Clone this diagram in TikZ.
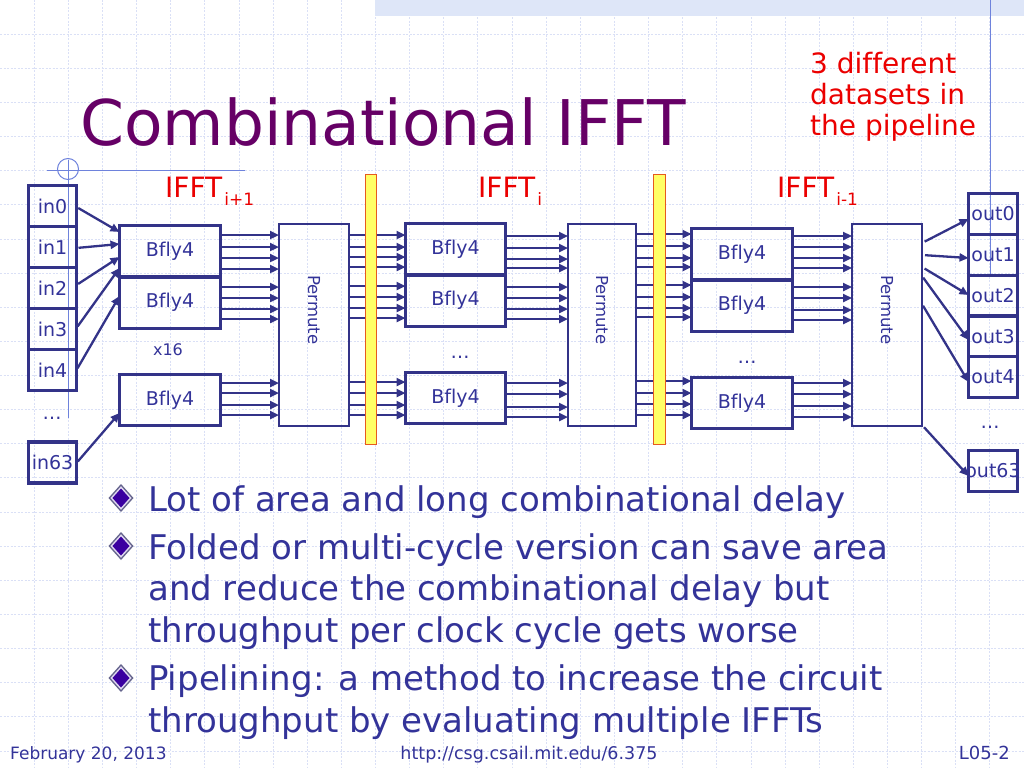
\documentclass[tikz,border=0pt]{standalone}
\usepackage{fontspec}
\setmainfont[Ligatures=NoCommon]{DejaVu Sans}
\usetikzlibrary{arrows.meta}
\definecolor{dblue}{RGB}{51,51,136}
\definecolor{tblue}{RGB}{51,51,153}
\definecolor{ttl}{RGB}{102,0,102}
\definecolor{gridc}{RGB}{218,224,246}
\definecolor{decoc}{RGB}{110,130,220}
\definecolor{bandc}{RGB}{222,230,248}
\definecolor{rred}{RGB}{235,0,0}
\definecolor{ybar}{RGB}{255,255,102}
\definecolor{ybord}{RGB}{230,90,30}
\definecolor{bulc}{RGB}{58,0,160}
\definecolor{bulo}{RGB}{100,100,140}
\newcommand\myfs[1]{\fontsize{#1}{#1}\selectfont}
\begin{document}
\begin{tikzpicture}[x=1pt,y=-1pt,
 gridline/.style={draw=gridc, line width=0.8pt, dash pattern=on 2pt off 1.5pt},
 deco/.style={draw=decoc, line width=1pt},
 box/.style={draw=dblue, line width=3.3pt, inner sep=0pt, outer sep=0pt, text=tblue, font=\myfs{19}},
 inbox/.style={box, minimum width=48pt, minimum height=41pt},
 outbox/.style={box, minimum width=49pt, minimum height=40.8pt},
 bfly/.style={box, minimum width=101pt, minimum height=51.5pt},
 perm/.style={draw=dblue, line width=2pt, inner sep=0pt, outer sep=0pt, minimum width=70pt, minimum height=202pt},
 permtext/.style={text=tblue, font=\myfs{16.5}, rotate=-90, inner sep=0pt},
 regbar/.style={draw=ybord, fill=ybar, line width=1pt, inner sep=0pt, minimum width=11pt, minimum height=270pt},
 arr/.style={draw=dblue, line width=2.3pt, -{Triangle[length=9pt,width=8pt]}},
 lab/.style={text=rred, font=\myfs{28}, anchor=base west, inner sep=0pt},
 body/.style={text=tblue, font=\myfs{34}, anchor=base west, inner sep=0pt},
 foot/.style={text=tblue, inner sep=0pt},
 dotsn/.style={text=tblue, font=\myfs{19}, inner sep=0pt},
]
\useasboundingbox (0,0) rectangle (1024,768);
\fill[white] (0,0) rectangle (1024,768);
% grid
\foreach \i in {1,...,29} \draw[gridline] (34.133*\i,0) -- (34.133*\i,768);
\foreach \j in {1,...,22} \draw[gridline] (0,34.133*\j) -- (1024,34.133*\j);
% top band and decorative lines
\fill[bandc] (375,0) rectangle (1024,16);
\draw[deco] (990,0) -- (990,275);
\draw[deco] (47,170) -- (245,170);
\draw[deco] (68,160) -- (68,418);
\draw[deco] (68,169) circle (10.5);

% title
\node[anchor=base west, text=ttl, font=\myfs{63}, inner sep=0pt] (title) at (80,145) {Combinational IFFT};
\node[lab] (note1) at (810,74) {3 different};
\node[lab] (note2) at (810,104) {datasets in};
\node[lab] (note3) at (810,135) {the pipeline};

% stage labels
\node[lab] (lab1) at (165,197) {IFFT\kern2pt\raisebox{-8pt}{\myfs{17}i+1}};
\node[lab] (lab2) at (478,197) {IFFT\kern2pt\raisebox{-8pt}{\myfs{17}i}};
\node[lab] (lab3) at (777,197) {IFFT\kern2pt\raisebox{-8pt}{\myfs{17}i-1}};

% inputs
\node[inbox] (in0) at (52.5,206) {in0};
\node[inbox] (in1) at (52.5,247) {in1};
\node[inbox] (in2) at (52.5,288) {in2};
\node[inbox] (in3) at (52.5,329) {in3};
\node[inbox] (in4) at (52.5,370) {in4};
\node[dotsn] (indots) at (52,418) {…};
\node[inbox] (in63) at (52.5,462.5) {in63};

% stage 1
\node[bfly] (s1a) at (170,251.25) {Bfly4};
\node[bfly] (s1b) at (170,302.75) {Bfly4};
\node[bfly] (s1c) at (170,400) {Bfly4};
\node[text=tblue, font=\myfs{16}, inner sep=0pt] (x16) at (168,350) {x16};
\node[perm] (p1) at (314,325) {};
\node[permtext] (p1t) at (314,310) {Permute};

% stage 2
\node[bfly, minimum width=100pt] (s2a) at (455.5,249.25) {Bfly4};
\node[bfly, minimum width=100pt] (s2b) at (455.5,300.75) {Bfly4};
\node[bfly, minimum width=100pt] (s2c) at (455.5,398) {Bfly4};
\node[dotsn] (s2dots) at (460,357) {…};
\node[perm, minimum width=68pt] (p2) at (602,325) {};
\node[permtext] (p2t) at (602,310) {Permute};

% stage 3
\node[bfly] (s3a) at (742,254.25) {Bfly4};
\node[bfly] (s3b) at (742,305.75) {Bfly4};
\node[bfly] (s3c) at (742,403) {Bfly4};
\node[dotsn] (s3dots) at (747,362) {…};
\node[perm] (p3) at (887,325) {};
\node[permtext] (p3t) at (887,310) {Permute};

% outputs
\node[outbox] (out0) at (993,214) {\makebox[0pt]{out0}};
\node[outbox] (out1) at (993,254.8) {\makebox[0pt]{out1}};
\node[outbox] (out2) at (993,295.6) {\makebox[0pt]{out2}};
\node[outbox] (out3) at (993,336.4) {\makebox[0pt]{out3}};
\node[outbox] (out4) at (993,377.2) {\makebox[0pt]{out4}};
\node[dotsn] (outdots) at (990,427) {…};
\node[outbox] (out63) at (993,471) {\makebox[0pt]{out63}};

% input arrows
\draw[arr, shorten <=2pt] (in0.east |- 0,207) -- (s1a.west |- 0,232);
\draw[arr, shorten <=2pt] (in1.east |- 0,248) -- (s1a.west |- 0,244);
\draw[arr, shorten <=2pt] (in2.east |- 0,285) -- (s1a.west |- 0,257);
\draw[arr, shorten <=2pt] (in3.east |- 0,328) -- (s1a.west |- 0,268);
\draw[arr, shorten <=2pt] (in4.east |- 0,370) -- (s1b.west |- 0,296);
\draw[arr, shorten <=2pt] (in63.east |- 0,463) -- (s1c.west |- 0,413);

% parallel arrows
\foreach \src/\dst/\ys in {
  s1a/p1/{235,247,258,269}, s1b/p1/{287,298,309,319}, s1c/p1/{383,393,405,415},
  s2a/p2/{236,248,259,268}, s2b/p2/{287,298,309,319}, s2c/p2/{383,394,407,417},
  s3a/p3/{236,247,258,268}, s3b/p3/{287,298,310,320}, s3c/p3/{383,394,406,417}}
  \foreach \y in \ys \draw[arr] (\src.east |- 0,\y) -- (\dst.west |- 0,\y);
\foreach \src/\dst/\ys in {
  p1/s2a/{235,247,257,267}, p1/s2b/{286,297,308,318}, p1/s2c/{382,393,405,415},
  p2/s3a/{234,246,258,267}, p2/s3b/{285,297,308,317}, p2/s3c/{381,393,404,415}}
  \foreach \y in \ys \draw[arr] (\src.east |- 0,\y) -- (\dst.west |- 0,\y);

% output arrows
\draw[arr, shorten <=3pt] (p3.east |- 0,243) -- (out0.west |- 0,219);
\draw[arr, shorten <=3pt] (p3.east |- 0,255) -- (out1.west |- 0,258);
\draw[arr, shorten <=3pt] (p3.east |- 0,267) -- (out2.west |- 0,295);
\draw[arr, shorten <=2pt] (p3.east |- 0,276) -- (out3.west |- 0,340);
\draw[arr, shorten <=2pt] (p3.east |- 0,304) -- (out4.west |- 0,382);
\draw[arr, shorten <=3pt] (p3.east |- 0,425) -- (out63.west |- 0,476);

% pipeline registers
\node[regbar] (bar1) at (371,309.5) {};
\node[regbar, minimum width=12pt] (bar2) at (659.5,309.5) {};

% bullets
\foreach \yy in {498,546,678} {
  \fill[bulo] (108.5,\yy) -- (121,\yy-14) -- (133.5,\yy) -- (121,\yy+14) -- cycle;
  \fill[white!85!bulc] (110.5,\yy) -- (121,\yy-11.8) -- (131.5,\yy) -- (121,\yy+11.8) -- cycle;
  \fill[bulc] (112.5,\yy) -- (121,\yy-9.5) -- (129.5,\yy) -- (121,\yy+9.5) -- cycle;
}
\node[body] (b1) at (148,511) {Lot of area and long combinational delay};
\node[body] (b2a) at (148,559) {Folded or multi-cycle version can save area};
\node[body] (b2b) at (148,600) {and reduce the combinational delay but};
\node[body] (b2c) at (148,642) {throughput per clock cycle gets worse};
\node[body] (b3a) at (148,690) {Pipelining: a method to increase the circuit};
\node[body] (b3b) at (148,732) {throughput by evaluating multiple IFFTs};

% footer
\node[foot, font=\myfs{17}, anchor=base west] (date) at (10,759) {February 20, 2013};
\node[foot, font=\myfs{17.5}, anchor=base] (url) at (529,759) {http://csg.csail.mit.edu/6.375};
\node[foot, font=\myfs{18}, anchor=base east] (page) at (1010,759) {L05-2};
\end{tikzpicture}
\end{document}
